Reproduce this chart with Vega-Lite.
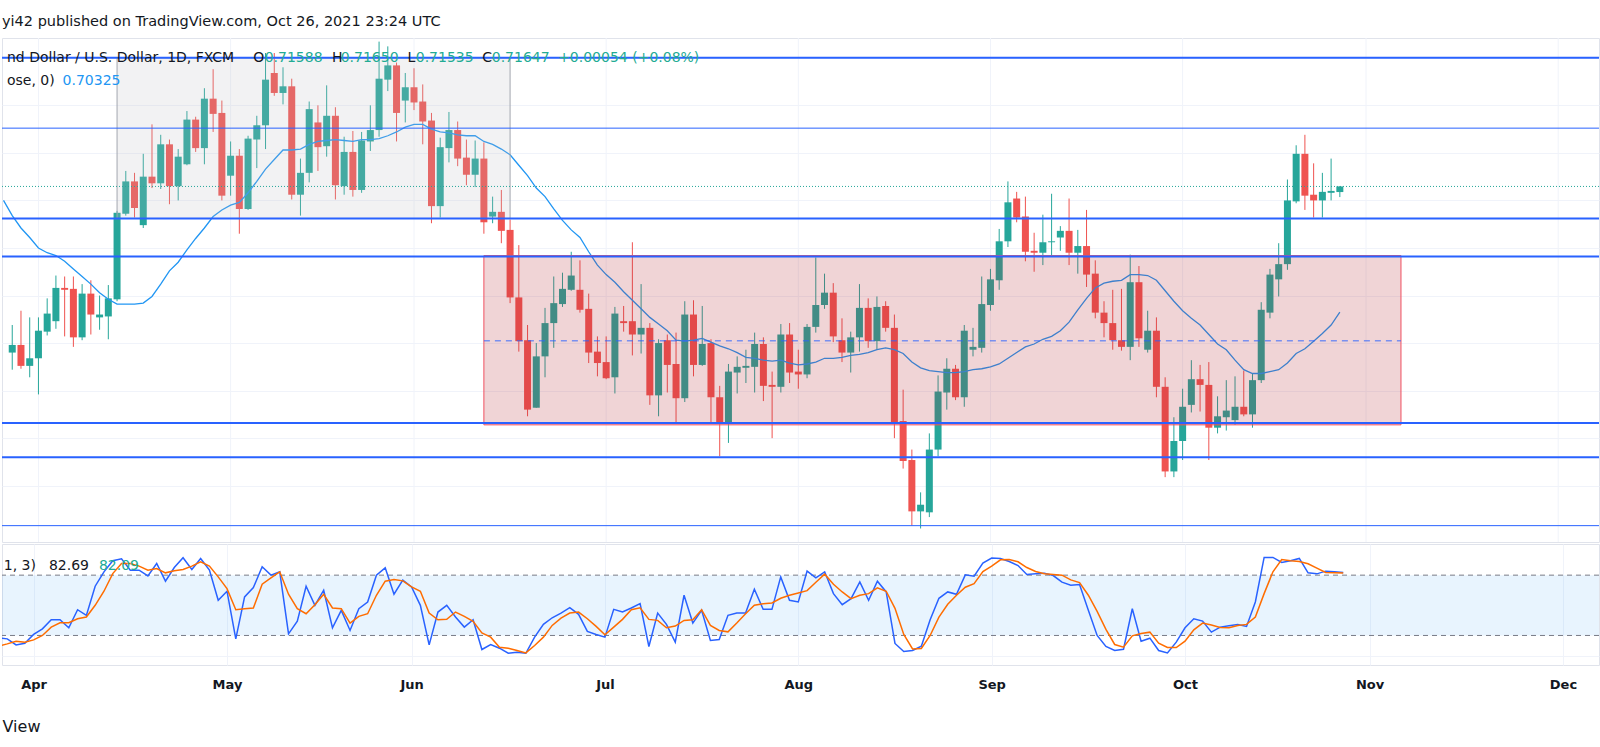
{
  "$schema": "https://vega.github.io/schema/vega-lite/v6.json",
  "padding": {"top": 13, "left": 0, "right": 0, "bottom": 0},
  "background": "white",
  "title": {
    "text": "yi42 published on TradingView.com, Oct 26, 2021 23:24 UTC",
    "anchor": "start",
    "frame": "group",
    "font": "DejaVu Sans",
    "fontSize": 14.5,
    "fontWeight": "normal",
    "color": "#131722",
    "offset": 8
  },
  "config": {
    "view": {"stroke": "#e0e3eb", "strokeWidth": 1},
    "axis": {"gridColor": "#f0f3fa", "gridWidth": 1}
  },
  "datasets": {
    "months": [
      {"i": 0, "m": "Apr"}, {"i": 22, "m": "May"}, {"i": 43, "m": "Jun"},
      {"i": 65, "m": "Jul"}, {"i": 87, "m": "Aug"}, {"i": 109, "m": "Sep"},
      {"i": 131, "m": "Oct"}, {"i": 152, "m": "Nov"}, {"i": 174, "m": "Dec"}
    ],
    "bars": [
      {"i":-4,"ma":0.7150,"k":17.5,"d":9.5},
      {"i":-3,"o":0.6990,"h":0.7019,"l":0.6972,"c":0.6998,"ma":0.7134,"k":16.6,"d":11.6},
      {"i":-2,"o":0.6998,"h":0.7034,"l":0.6973,"c":0.6976,"ma":0.7121,"k":10.6,"d":14.3},
      {"i":-1,"o":0.6976,"h":0.7027,"l":0.6964,"c":0.6984,"ma":0.7111,"k":12.3,"d":13.3},
      {"i":0,"o":0.6984,"h":0.7027,"l":0.6946,"c":0.7013,"ma":0.7100,"k":21,"d":15.6},
      {"i":1,"o":0.7012,"h":0.7047,"l":0.7008,"c":0.7031,"ma":0.7095,"k":26.6,"d":20},
      {"i":2,"o":0.7023,"h":0.7071,"l":0.7015,"c":0.7058,"ma":0.7092,"k":35.6,"d":28.3},
      {"i":3,"o":0.7058,"h":0.7070,"l":0.7007,"c":0.7056,"ma":0.7086,"k":35.6,"d":32.6},
      {"i":4,"o":0.7057,"h":0.7070,"l":0.6996,"c":0.7006,"ma":0.7078,"k":27.6,"d":32.6},
      {"i":5,"o":0.7006,"h":0.7062,"l":0.7003,"c":0.7052,"ma":0.7070,"k":45.6,"d":36.6},
      {"i":6,"o":0.7052,"h":0.7066,"l":0.7009,"c":0.7030,"ma":0.7062,"k":40,"d":38.3},
      {"i":7,"o":0.7027,"h":0.7050,"l":0.7014,"c":0.7030,"ma":0.7053,"k":69,"d":50},
      {"i":8,"o":0.7028,"h":0.7061,"l":0.7004,"c":0.7047,"ma":0.7046,"k":83.3,"d":64},
      {"i":9,"o":0.7046,"h":0.7139,"l":0.7044,"c":0.7137,"ma":0.7041,"k":94.3,"d":81.6},
      {"i":10,"o":0.7136,"h":0.7181,"l":0.7134,"c":0.7170,"ma":0.7041,"k":96.3,"d":91.6},
      {"i":11,"o":0.7170,"h":0.7179,"l":0.7132,"c":0.7142,"ma":0.7041,"k":85,"d":91.6},
      {"i":12,"o":0.7124,"h":0.7199,"l":0.7121,"c":0.7175,"ma":0.7042,"k":85,"d":89},
      {"i":13,"o":0.7175,"h":0.7230,"l":0.7163,"c":0.7168,"ma":0.7049,"k":79.3,"d":85},
      {"i":14,"o":0.7168,"h":0.7219,"l":0.7162,"c":0.7209,"ma":0.7062,"k":91.6,"d":86.6},
      {"i":15,"o":0.7209,"h":0.7214,"l":0.7146,"c":0.7165,"ma":0.7076,"k":74,"d":82.3},
      {"i":16,"o":0.7165,"h":0.7204,"l":0.7150,"c":0.7196,"ma":0.7085,"k":87.6,"d":84.3},
      {"i":17,"o":0.7188,"h":0.7244,"l":0.7187,"c":0.7235,"ma":0.7098,"k":97.3,"d":85.6},
      {"i":18,"o":0.7235,"h":0.7238,"l":0.7201,"c":0.7205,"ma":0.7110,"k":85.6,"d":89},
      {"i":19,"o":0.7205,"h":0.7268,"l":0.7188,"c":0.7257,"ma":0.7121,"k":96.6,"d":93.3},
      {"i":20,"o":0.7257,"h":0.7288,"l":0.7222,"c":0.7241,"ma":0.7133,"k":85,"d":89},
      {"i":21,"o":0.7242,"h":0.7255,"l":0.7150,"c":0.7155,"ma":0.7140,"k":55,"d":78.3},
      {"i":22,"o":0.7176,"h":0.7212,"l":0.7155,"c":0.7197,"ma":0.7145,"k":64,"d":66.6},
      {"i":23,"o":0.7197,"h":0.7204,"l":0.7115,"c":0.7141,"ma":0.7148,"k":16.6,"d":45.6},
      {"i":24,"o":0.7141,"h":0.7218,"l":0.7140,"c":0.7215,"ma":0.7158,"k":58.3,"d":46.6},
      {"i":25,"o":0.7214,"h":0.7239,"l":0.7184,"c":0.7229,"ma":0.7170,"k":67.6,"d":47.3},
      {"i":26,"o":0.7229,"h":0.7305,"l":0.7204,"c":0.7277,"ma":0.7183,"k":88.3,"d":71},
      {"i":27,"o":0.7284,"h":0.7305,"l":0.7260,"c":0.7263,"ma":0.7193,"k":80,"d":77.3},
      {"i":28,"o":0.7263,"h":0.7290,"l":0.7251,"c":0.7270,"ma":0.7203,"k":83.3,"d":83.3},
      {"i":29,"o":0.7270,"h":0.7278,"l":0.7151,"c":0.7156,"ma":0.7203,"k":21.6,"d":61},
      {"i":30,"o":0.7156,"h":0.7194,"l":0.7134,"c":0.7179,"ma":0.7204,"k":34.3,"d":46.6},
      {"i":31,"o":0.7179,"h":0.7254,"l":0.7169,"c":0.7246,"ma":0.7209,"k":69,"d":41.6},
      {"i":32,"o":0.7232,"h":0.7250,"l":0.7181,"c":0.7206,"ma":0.7212,"k":50,"d":50.6},
      {"i":33,"o":0.7207,"h":0.7271,"l":0.7196,"c":0.7239,"ma":0.7213,"k":65,"d":61},
      {"i":34,"o":0.7239,"h":0.7248,"l":0.7151,"c":0.7166,"ma":0.7214,"k":27.6,"d":47.3},
      {"i":35,"o":0.7165,"h":0.7217,"l":0.7156,"c":0.7201,"ma":0.7213,"k":45,"d":46.6},
      {"i":36,"o":0.7201,"h":0.7223,"l":0.7154,"c":0.7161,"ma":0.7212,"k":25,"d":32.3},
      {"i":37,"o":0.7161,"h":0.7222,"l":0.7158,"c":0.7213,"ma":0.7214,"k":46.6,"d":39},
      {"i":38,"o":0.7212,"h":0.7250,"l":0.7202,"c":0.7224,"ma":0.7214,"k":53.3,"d":41.6},
      {"i":39,"o":0.7224,"h":0.7317,"l":0.7217,"c":0.7278,"ma":0.7215,"k":80,"d":60},
      {"i":40,"o":0.7277,"h":0.7312,"l":0.7265,"c":0.7292,"ma":0.7218,"k":87.3,"d":74},
      {"i":41,"o":0.7292,"h":0.7295,"l":0.7212,"c":0.7242,"ma":0.7222,"k":61,"d":75.6},
      {"i":42,"o":0.7255,"h":0.7284,"l":0.7232,"c":0.7269,"ma":0.7227,"k":75,"d":74.3},
      {"i":43,"o":0.7269,"h":0.7289,"l":0.7245,"c":0.7253,"ma":0.7230,"k":68.3,"d":68.3},
      {"i":44,"o":0.7254,"h":0.7272,"l":0.7209,"c":0.7233,"ma":0.7230,"k":50,"d":64},
      {"i":45,"o":0.7234,"h":0.7242,"l":0.7126,"c":0.7144,"ma":0.7225,"k":10.6,"d":42.3},
      {"i":46,"o":0.7144,"h":0.7216,"l":0.7132,"c":0.7206,"ma":0.7222,"k":43.3,"d":35.6},
      {"i":47,"o":0.7205,"h":0.7243,"l":0.7190,"c":0.7224,"ma":0.7221,"k":50,"d":36},
      {"i":48,"o":0.7224,"h":0.7233,"l":0.7186,"c":0.7194,"ma":0.7219,"k":38.3,"d":43.3},
      {"i":49,"o":0.7195,"h":0.7214,"l":0.7166,"c":0.7177,"ma":0.7218,"k":28.3,"d":39},
      {"i":50,"o":0.7177,"h":0.7213,"l":0.7164,"c":0.7194,"ma":0.7218,"k":35.6,"d":34},
      {"i":51,"o":0.7194,"h":0.7211,"l":0.7115,"c":0.7127,"ma":0.7212,"k":6,"d":22.6},
      {"i":52,"o":0.7133,"h":0.7154,"l":0.7126,"c":0.7138,"ma":0.7209,"k":11,"d":18.3},
      {"i":53,"o":0.7138,"h":0.7161,"l":0.7105,"c":0.7118,"ma":0.7204,"k":7.3,"d":8.3},
      {"i":54,"o":0.7119,"h":0.7130,"l":0.7042,"c":0.7048,"ma":0.7198,"k":2.3,"d":7.3},
      {"i":55,"o":0.7048,"h":0.7103,"l":0.6991,"c":0.7002,"ma":0.7187,"k":3.3,"d":5},
      {"i":56,"o":0.7003,"h":0.7019,"l":0.6923,"c":0.6930,"ma":0.7176,"k":2.3,"d":2.6},
      {"i":57,"o":0.6932,"h":0.7000,"l":0.6932,"c":0.6986,"ma":0.7163,"k":18.3,"d":10},
      {"i":58,"o":0.6986,"h":0.7037,"l":0.6964,"c":0.7021,"ma":0.7154,"k":31,"d":18.3},
      {"i":59,"o":0.7021,"h":0.7070,"l":0.6995,"c":0.7042,"ma":0.7141,"k":37.6,"d":30},
      {"i":60,"o":0.7041,"h":0.7074,"l":0.7038,"c":0.7057,"ma":0.7129,"k":42.3,"d":37.3},
      {"i":61,"o":0.7056,"h":0.7096,"l":0.7055,"c":0.7071,"ma":0.7119,"k":47.6,"d":42.3},
      {"i":62,"o":0.7056,"h":0.7087,"l":0.7032,"c":0.7035,"ma":0.7111,"k":41,"d":43.3},
      {"i":63,"o":0.7036,"h":0.7052,"l":0.6979,"c":0.6990,"ma":0.7096,"k":24,"d":36.6},
      {"i":64,"o":0.6991,"h":0.7007,"l":0.6965,"c":0.6979,"ma":0.7082,"k":21,"d":29},
      {"i":65,"o":0.6980,"h":0.7007,"l":0.6962,"c":0.6963,"ma":0.7072,"k":18.3,"d":20.6},
      {"i":66,"o":0.6964,"h":0.7038,"l":0.6947,"c":0.7031,"ma":0.7064,"k":46,"d":28.3},
      {"i":67,"o":0.7023,"h":0.7039,"l":0.7012,"c":0.7021,"ma":0.7054,"k":43.3,"d":36},
      {"i":68,"o":0.7023,"h":0.7106,"l":0.6987,"c":0.7009,"ma":0.7045,"k":47.3,"d":45.6},
      {"i":69,"o":0.7009,"h":0.7062,"l":0.6989,"c":0.7016,"ma":0.7036,"k":51.6,"d":47.6},
      {"i":70,"o":0.7016,"h":0.7021,"l":0.6935,"c":0.6945,"ma":0.7027,"k":9,"d":36},
      {"i":71,"o":0.6945,"h":0.7004,"l":0.6923,"c":0.7000,"ma":0.7020,"k":42.3,"d":35},
      {"i":72,"o":0.7003,"h":0.7009,"l":0.6948,"c":0.6977,"ma":0.7013,"k":31,"d":27.6},
      {"i":73,"o":0.6978,"h":0.7011,"l":0.6916,"c":0.6942,"ma":0.7003,"k":13.3,"d":29.3},
      {"i":74,"o":0.6942,"h":0.7044,"l":0.6938,"c":0.7030,"ma":0.7002,"k":60,"d":35},
      {"i":75,"o":0.7030,"h":0.7045,"l":0.6965,"c":0.6977,"ma":0.7003,"k":32.3,"d":35.6},
      {"i":76,"o":0.6977,"h":0.7039,"l":0.6976,"c":0.6999,"ma":0.7005,"k":45,"d":45.6},
      {"i":77,"o":0.7000,"h":0.7004,"l":0.6916,"c":0.6943,"ma":0.7001,"k":15,"d":30},
      {"i":78,"o":0.6943,"h":0.6955,"l":0.6881,"c":0.6916,"ma":0.6997,"k":16,"d":25},
      {"i":79,"o":0.6916,"h":0.6978,"l":0.6895,"c":0.6970,"ma":0.6994,"k":40,"d":23.6},
      {"i":80,"o":0.6969,"h":0.6986,"l":0.6947,"c":0.6975,"ma":0.6990,"k":42.3,"d":32.3},
      {"i":81,"o":0.6974,"h":0.6993,"l":0.6958,"c":0.6976,"ma":0.6985,"k":42.3,"d":41.6},
      {"i":82,"o":0.6975,"h":0.7011,"l":0.6948,"c":0.6999,"ma":0.6984,"k":66,"d":50},
      {"i":83,"o":0.6999,"h":0.7006,"l":0.6939,"c":0.6955,"ma":0.6982,"k":46,"d":51.6},
      {"i":84,"o":0.6956,"h":0.6970,"l":0.6900,"c":0.6954,"ma":0.6981,"k":46,"d":52.3},
      {"i":85,"o":0.6954,"h":0.7020,"l":0.6948,"c":0.7009,"ma":0.6982,"k":78.3,"d":57},
      {"i":86,"o":0.7009,"h":0.7021,"l":0.6958,"c":0.6969,"ma":0.6979,"k":55,"d":60},
      {"i":87,"o":0.6970,"h":0.6993,"l":0.6952,"c":0.6967,"ma":0.6977,"k":53.3,"d":62.3},
      {"i":88,"o":0.6967,"h":0.7020,"l":0.6963,"c":0.7017,"ma":0.6978,"k":84,"d":64.6},
      {"i":89,"o":0.7017,"h":0.7090,"l":0.7011,"c":0.7040,"ma":0.6980,"k":77.3,"d":73},
      {"i":90,"o":0.7040,"h":0.7073,"l":0.7036,"c":0.7053,"ma":0.6984,"k":83.3,"d":81},
      {"i":91,"o":0.7053,"h":0.7063,"l":0.7001,"c":0.7007,"ma":0.6984,"k":61.6,"d":71},
      {"i":92,"o":0.7003,"h":0.7026,"l":0.6980,"c":0.6990,"ma":0.6985,"k":50.6,"d":63.3},
      {"i":93,"o":0.6990,"h":0.7012,"l":0.6969,"c":0.7006,"ma":0.6987,"k":56.6,"d":56.6},
      {"i":94,"o":0.7006,"h":0.7062,"l":0.6991,"c":0.7037,"ma":0.6988,"k":73.3,"d":60},
      {"i":95,"o":0.7037,"h":0.7047,"l":0.6995,"c":0.7002,"ma":0.6990,"k":55,"d":61.6},
      {"i":96,"o":0.7002,"h":0.7049,"l":0.6993,"c":0.7038,"ma":0.6993,"k":74,"d":67.3},
      {"i":97,"o":0.7039,"h":0.7044,"l":0.7012,"c":0.7016,"ma":0.6995,"k":63.3,"d":64},
      {"i":98,"o":0.7016,"h":0.7030,"l":0.6900,"c":0.6917,"ma":0.6993,"k":12,"d":47},
      {"i":99,"o":0.6918,"h":0.6951,"l":0.6868,"c":0.6876,"ma":0.6989,"k":4,"d":21},
      {"i":100,"o":0.6877,"h":0.6888,"l":0.6808,"c":0.6823,"ma":0.6980,"k":5,"d":6.6},
      {"i":101,"o":0.6823,"h":0.6843,"l":0.6805,"c":0.6830,"ma":0.6974,"k":9.3,"d":7},
      {"i":102,"o":0.6822,"h":0.6905,"l":0.6817,"c":0.6888,"ma":0.6971,"k":35.6,"d":20},
      {"i":103,"o":0.6888,"h":0.6966,"l":0.6881,"c":0.6949,"ma":0.6970,"k":57,"d":38.3},
      {"i":104,"o":0.6948,"h":0.6984,"l":0.6930,"c":0.6973,"ma":0.6969,"k":63.3,"d":51},
      {"i":105,"o":0.6973,"h":0.6977,"l":0.6940,"c":0.6943,"ma":0.6969,"k":61,"d":60},
      {"i":106,"o":0.6943,"h":0.7019,"l":0.6933,"c":0.7013,"ma":0.6970,"k":80.3,"d":68},
      {"i":107,"o":0.6993,"h":0.7016,"l":0.6986,"c":0.6996,"ma":0.6972,"k":79,"d":71.6},
      {"i":108,"o":0.6995,"h":0.7070,"l":0.6990,"c":0.7041,"ma":0.6973,"k":92,"d":83.6},
      {"i":109,"o":0.7040,"h":0.7078,"l":0.7034,"c":0.7067,"ma":0.6975,"k":97,"d":89},
      {"i":110,"o":0.7066,"h":0.7120,"l":0.7056,"c":0.7107,"ma":0.6978,"k":96.6,"d":95.3},
      {"i":111,"o":0.7107,"h":0.7170,"l":0.7101,"c":0.7148,"ma":0.6984,"k":93.6,"d":95.6},
      {"i":112,"o":0.7152,"h":0.7159,"l":0.7127,"c":0.7132,"ma":0.6990,"k":89.6,"d":93.3},
      {"i":113,"o":0.7133,"h":0.7154,"l":0.7086,"c":0.7096,"ma":0.6996,"k":80.6,"d":87.6},
      {"i":114,"o":0.7097,"h":0.7116,"l":0.7075,"c":0.7095,"ma":0.6999,"k":81.3,"d":83.6},
      {"i":115,"o":0.7095,"h":0.7135,"l":0.7082,"c":0.7106,"ma":0.7004,"k":82,"d":81.3},
      {"i":116,"o":0.7106,"h":0.7157,"l":0.7092,"c":0.7107,"ma":0.7007,"k":79.6,"d":80.6},
      {"i":117,"o":0.7111,"h":0.7123,"l":0.7097,"c":0.7118,"ma":0.7013,"k":73,"d":80},
      {"i":118,"o":0.7118,"h":0.7152,"l":0.7082,"c":0.7095,"ma":0.7022,"k":70,"d":75.3},
      {"i":119,"o":0.7095,"h":0.7119,"l":0.7073,"c":0.7102,"ma":0.7035,"k":70.6,"d":72.6},
      {"i":120,"o":0.7102,"h":0.7140,"l":0.7059,"c":0.7072,"ma":0.7047,"k":45,"d":60},
      {"i":121,"o":0.7073,"h":0.7087,"l":0.7026,"c":0.7032,"ma":0.7058,"k":20,"d":44},
      {"i":122,"o":0.7032,"h":0.7044,"l":0.7006,"c":0.7021,"ma":0.7063,"k":9,"d":26},
      {"i":123,"o":0.7021,"h":0.7056,"l":0.6993,"c":0.7003,"ma":0.7065,"k":5,"d":11},
      {"i":124,"o":0.7003,"h":0.7057,"l":0.6992,"c":0.6996,"ma":0.7066,"k":6.3,"d":8.3},
      {"i":125,"o":0.6996,"h":0.7093,"l":0.6982,"c":0.7064,"ma":0.7072,"k":46.6,"d":19.6},
      {"i":126,"o":0.7064,"h":0.7081,"l":0.6996,"c":0.7005,"ma":0.7072,"k":14.3,"d":22},
      {"i":127,"o":0.6993,"h":0.7034,"l":0.6990,"c":0.7013,"ma":0.7071,"k":17.3,"d":23.3},
      {"i":128,"o":0.7013,"h":0.7027,"l":0.6943,"c":0.6954,"ma":0.7066,"k":5,"d":12.3},
      {"i":129,"o":0.6954,"h":0.6964,"l":0.6859,"c":0.6865,"ma":0.7055,"k":2.6,"d":8},
      {"i":130,"o":0.6865,"h":0.6922,"l":0.6859,"c":0.6897,"ma":0.7044,"k":13.3,"d":8},
      {"i":131,"o":0.6897,"h":0.6952,"l":0.6877,"c":0.6933,"ma":0.7034,"k":27.6,"d":14.3},
      {"i":132,"o":0.6935,"h":0.6982,"l":0.6927,"c":0.6962,"ma":0.7026,"k":36.6,"d":25.6},
      {"i":133,"o":0.6962,"h":0.6977,"l":0.6928,"c":0.6956,"ma":0.7019,"k":34.3,"d":32.3},
      {"i":134,"o":0.6956,"h":0.6980,"l":0.6877,"c":0.6911,"ma":0.7009,"k":23.3,"d":30.3},
      {"i":135,"o":0.6911,"h":0.6944,"l":0.6905,"c":0.6923,"ma":0.6999,"k":28.3,"d":28},
      {"i":136,"o":0.6922,"h":0.6961,"l":0.6908,"c":0.6929,"ma":0.6993,"k":29.6,"d":27.6},
      {"i":137,"o":0.6919,"h":0.6965,"l":0.6914,"c":0.6933,"ma":0.6982,"k":31,"d":30},
      {"i":138,"o":0.6933,"h":0.6971,"l":0.6923,"c":0.6925,"ma":0.6972,"k":29,"d":31},
      {"i":139,"o":0.6925,"h":0.6968,"l":0.6911,"c":0.6961,"ma":0.6968,"k":53.3,"d":38.3},
      {"i":140,"o":0.6961,"h":0.7043,"l":0.6958,"c":0.7035,"ma":0.6968,"k":97.6,"d":61.6},
      {"i":141,"o":0.7032,"h":0.7078,"l":0.7026,"c":0.7072,"ma":0.6970,"k":97.6,"d":83.3},
      {"i":142,"o":0.7067,"h":0.7105,"l":0.7049,"c":0.7083,"ma":0.6972,"k":92.6,"d":95.6},
      {"i":143,"o":0.7083,"h":0.7172,"l":0.7077,"c":0.7150,"ma":0.6979,"k":94.3,"d":94.3},
      {"i":144,"o":0.7149,"h":0.7208,"l":0.7147,"c":0.7199,"ma":0.6989,"k":96.6,"d":93.6},
      {"i":145,"o":0.7199,"h":0.7219,"l":0.7140,"c":0.7155,"ma":0.6994,"k":82.3,"d":91.3},
      {"i":146,"o":0.7156,"h":0.7189,"l":0.7132,"c":0.7150,"ma":0.7002,"k":81.3,"d":87},
      {"i":147,"o":0.7150,"h":0.7179,"l":0.7132,"c":0.7159,"ma":0.7010,"k":84,"d":82.6},
      {"i":148,"o":0.7158,"h":0.7194,"l":0.7150,"c":0.7160,"ma":0.7019,"k":83.3,"d":82.3},
      {"i":149,"o":0.71588,"h":0.71650,"l":0.71535,"c":0.71647,"ma":0.70325,"k":82.69,"d":82.09}
    ],
    "zones": [
      {"name": "range", "i1": 9, "i2": 54, "p1": 0.7131, "p2": 0.7300},
      {"name": "box", "i1": 51, "i2": 156, "p1": 0.6914, "p2": 0.7092}
    ],
    "levels": [
      {"p": 0.7300, "kind": "thick"},
      {"p": 0.7226, "kind": "thin"},
      {"p": 0.7131, "kind": "thick"},
      {"p": 0.7091, "kind": "thick"},
      {"p": 0.6916, "kind": "thick"},
      {"p": 0.6880, "kind": "thick"},
      {"p": 0.6808, "kind": "thin"}
    ],
    "legend": [
      {"t": "nd Dollar / U.S. Dollar, 1D, FXCM", "i": -3.6, "p": 0.7300, "kind": "label"},
      {"t": "O", "i": 24.6, "p": 0.7300, "kind": "label"},
      {"t": "0.71588", "i": 25.9, "p": 0.7300, "kind": "value"},
      {"t": "H", "i": 33.6, "p": 0.7300, "kind": "label"},
      {"t": "0.71650", "i": 34.6, "p": 0.7300, "kind": "value"},
      {"t": "L", "i": 42.25, "p": 0.7300, "kind": "label"},
      {"t": "0.71535", "i": 43.2, "p": 0.7300, "kind": "value"},
      {"t": "C", "i": 50.8, "p": 0.7300, "kind": "label"},
      {"t": "0.71647", "i": 51.9, "p": 0.7300, "kind": "value"},
      {"t": "+0.00054 (+0.08%)", "i": 59.5, "p": 0.7300, "kind": "value"},
      {"t": "ose, 0)", "i": -3.6, "p": 0.72756, "kind": "label"},
      {"t": "0.70325", "i": 2.76, "p": 0.72756, "kind": "ma"}
    ],
    "stochLegend": [
      {"t": "1, 3)", "i": -3.4, "v": 89.3, "kind": "label"},
      {"t": "82.69", "i": 1.74, "v": 89.3, "kind": "k"},
      {"t": "82.09", "i": 7.43, "v": 89.3, "kind": "d"}
    ]
  },
  "vconcat": [
    {
      "width": 1597,
      "height": 504,
      "layer": [
        {
          "data": {"name": "months"},
          "mark": {"type": "rule", "color": "#f0f3fa", "strokeWidth": 1},
          "encoding": {
            "x": {
              "field": "i", "type": "quantitative",
              "scale": {"domain": [-3.6, 178.1], "nice": false, "zero": false},
              "axis": null
            }
          }
        },
        {
          "data": {"name": "bars"},
          "mark": {"type": "rule", "strokeWidth": 1, "clip": true},
          "encoding": {
            "x": {"field": "i", "type": "quantitative"},
            "y": {
              "field": "l", "type": "quantitative",
              "scale": {"domain": [0.67908, 0.73208], "nice": false, "zero": false},
              "axis": {"title": null, "orient": "right", "labels": false, "ticks": false, "domain": false, "values": [0.685, 0.69, 0.695, 0.70, 0.705, 0.71, 0.715, 0.72, 0.725, 0.73]}
            },
            "y2": {"field": "h"},
            "color": {"condition": {"test": "datum.c >= datum.o", "value": "#26a69a"}, "value": "#ef5350"}
          }
        },
        {
          "data": {"name": "bars"},
          "mark": {"type": "bar", "width": 7, "clip": true},
          "encoding": {
            "x": {"field": "i", "type": "quantitative"},
            "y": {"field": "o", "type": "quantitative"},
            "y2": {"field": "c"},
            "color": {"condition": {"test": "datum.c >= datum.o", "value": "#26a69a"}, "value": "#ef5350"}
          }
        },
        {
          "data": {"name": "bars"},
          "mark": {"type": "line", "color": "#2196f3", "strokeWidth": 1.3, "clip": true},
          "encoding": {
            "x": {"field": "i", "type": "quantitative"},
            "y": {"field": "ma", "type": "quantitative"}
          }
        },
        {
          "data": {"name": "zones"},
          "mark": {"type": "rect", "fillOpacity": 0.2, "strokeWidth": 1},
          "encoding": {
            "x": {"field": "i1", "type": "quantitative"},
            "x2": {"field": "i2"},
            "y": {"field": "p1", "type": "quantitative"},
            "y2": {"field": "p2"},
            "fill": {"field": "name", "type": "nominal", "scale": {"domain": ["range", "box"], "range": ["#bcbcc4", "#b22833"]}, "legend": null},
            "stroke": {"field": "name", "type": "nominal", "scale": {"domain": ["range", "box"], "range": ["#a3a6af", "#f05060"]}, "legend": null}
          }
        },
        {
          "data": {"values": [{"i1": 51, "i2": 156, "p": 0.70025}]},
          "mark": {"type": "rule", "color": "#2962ff", "opacity": 0.6, "strokeWidth": 1.5, "strokeDash": [6, 5]},
          "encoding": {
            "x": {"field": "i1", "type": "quantitative"},
            "x2": {"field": "i2"},
            "y": {"field": "p", "type": "quantitative"}
          }
        },
        {
          "data": {"name": "levels"},
          "mark": {"type": "rule", "color": "#2962ff"},
          "encoding": {
            "y": {"field": "p", "type": "quantitative"},
            "strokeWidth": {"field": "kind", "type": "nominal", "scale": {"domain": ["thick", "thin"], "range": [2, 1]}, "legend": null}
          }
        },
        {
          "data": {"values": [{"p": 0.71647}]},
          "mark": {"type": "rule", "color": "#26a69a", "strokeWidth": 1, "strokeDash": [1, 2]},
          "encoding": {
            "y": {"field": "p", "type": "quantitative"}
          }
        },
        {
          "data": {"name": "legend"},
          "mark": {"type": "text", "align": "left", "baseline": "middle", "font": "DejaVu Sans", "fontSize": 14},
          "encoding": {
            "x": {"field": "i", "type": "quantitative"},
            "y": {"field": "p", "type": "quantitative"},
            "text": {"field": "t"},
            "color": {"field": "kind", "type": "nominal", "scale": {"domain": ["label", "value", "ma"], "range": ["#131722", "#22ab94", "#2196f3"]}, "legend": null}
          }
        }
      ]
    },
    {
      "width": 1597,
      "height": 121,
      "layer": [
        {
          "data": {"values": [{"lo": 20, "hi": 80, "a": -3.6, "b": 178.1}]},
          "mark": {"type": "rect", "color": "#2196f3", "opacity": 0.1},
          "encoding": {
            "x": {"field": "a", "type": "quantitative"},
            "x2": {"field": "b"},
            "y": {"field": "hi", "type": "quantitative", "scale": {"domain": [-9.4, 111], "nice": false, "zero": false},
                  "axis": {"title": null, "orient": "right", "labels": false, "ticks": false, "domain": false, "values": [0]}},
            "y2": {"field": "lo"}
          }
        },
        {
          "data": {"values": [{"v": 80}, {"v": 20}]},
          "mark": {"type": "rule", "color": "#787b86", "strokeWidth": 1, "strokeDash": [5, 4]},
          "encoding": {
            "y": {"field": "v", "type": "quantitative"}
          }
        },
        {
          "data": {"name": "bars"},
          "mark": {"type": "line", "color": "#2962ff", "strokeWidth": 1.5, "clip": true},
          "encoding": {
            "x": {
              "field": "i", "type": "quantitative",
              "scale": {"domain": [-3.6, 178.1], "nice": false, "zero": false},
              "axis": {
                "title": "View",
                "titleFont": "DejaVu Sans", "titleFontSize": 16, "titleFontWeight": "normal", "titleColor": "#131722",
                "titleAnchor": "start", "titleAlign": "left", "titlePadding": 27,
                "values": [0, 22, 43, 65, 87, 109, 131, 152, 174],
                "labelExpr": "datum.value == 0 ? 'Apr' : datum.value == 22 ? 'May' : datum.value == 43 ? 'Jun' : datum.value == 65 ? 'Jul' : datum.value == 87 ? 'Aug' : datum.value == 109 ? 'Sep' : datum.value == 131 ? 'Oct' : datum.value == 152 ? 'Nov' : 'Dec'",
                "labelFont": "DejaVu Sans", "labelFontSize": 13, "labelFontWeight": "bold", "labelColor": "#131722",
                "labelPadding": 13, "ticks": false, "tickSize": 0, "domain": false
              }
            },
            "y": {"field": "k", "type": "quantitative"}
          }
        },
        {
          "data": {"name": "bars"},
          "mark": {"type": "line", "color": "#ff6d00", "strokeWidth": 1.5, "clip": true},
          "encoding": {
            "x": {"field": "i", "type": "quantitative"},
            "y": {"field": "d", "type": "quantitative"}
          }
        },
        {
          "data": {"name": "stochLegend"},
          "mark": {"type": "text", "align": "left", "baseline": "middle", "font": "DejaVu Sans", "fontSize": 14},
          "encoding": {
            "x": {"field": "i", "type": "quantitative"},
            "y": {"field": "v", "type": "quantitative"},
            "text": {"field": "t"},
            "color": {"field": "kind", "type": "nominal", "scale": {"domain": ["label", "k", "d"], "range": ["#131722", "#2962ff", "#ff6d00"]}, "legend": null}
          }
        }
      ]
    }
  ],
  "spacing": 0
}
